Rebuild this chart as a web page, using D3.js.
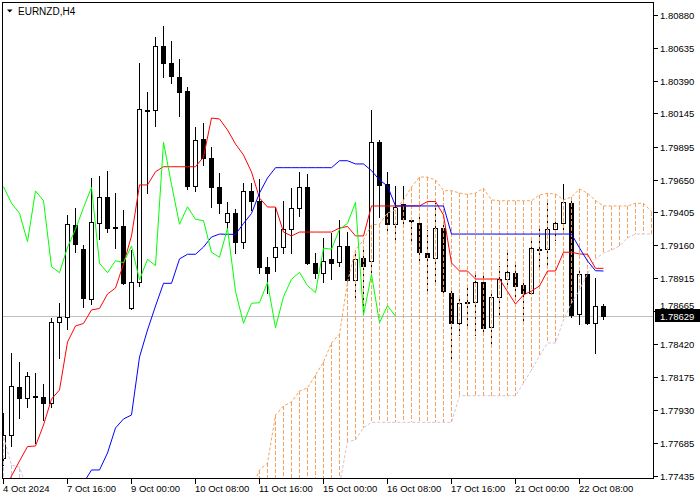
<!DOCTYPE html>
<html><head><meta charset="utf-8">
<script src="https://cdn.jsdelivr.net/npm/d3@7"></script>
<style>html,body{margin:0;padding:0;background:#fff;}svg{display:block;}</style>
</head><body><svg id="c" width="700" height="500"></svg>
<script>
const symbolTitle = "EURNZD,H4";
const lastPrice = 1.78629;
const xTickBars = [0, 8, 16, 24, 32, 40, 48, 56, 64, 72];
const xTickLabels = ["4 Oct 2024", "7 Oct 16:00", "9 Oct 00:00", "10 Oct 08:00", "11 Oct 16:00",
  "15 Oct 00:00", "16 Oct 08:00", "17 Oct 16:00", "21 Oct 00:00", "22 Oct 08:00"];
const yTickLabels = ["1.80880", "1.80635", "1.80390", "1.80145", "1.79895", "1.79650", "1.79405",
  "1.79160", "1.78915", "1.78665", "1.78420", "1.78175", "1.77930", "1.77685", "1.77435"];

const open = [
1.77570, 1.77741, 1.78098, 1.78020, 1.78033, 1.78023, 1.77978, 1.78584, 1.78621, 1.79311,
1.79129, 1.78755, 1.79323, 1.79518, 1.79296, 1.79303, 1.78688, 1.78882, 1.80170, 1.80170,
1.80648, 1.80524, 1.80414, 1.80312, 1.79604, 1.79953, 1.79809, 1.79592, 1.79335, 1.79398,
1.79186, 1.79565, 1.79492, 1.78999, 1.79074, 1.79144, 1.79279, 1.79440, 1.79592, 1.79025,
1.78950, 1.79054, 1.79036, 1.79154, 1.78900, 1.79062, 1.79044, 1.79929, 1.79617, 1.79316,
1.79465, 1.79348, 1.79323, 1.79104, 1.79066, 1.79286, 1.78800, 1.78576, 1.78735, 1.78733,
1.78882, 1.78546, 1.78770, 1.78905, 1.78950, 1.78862, 1.78805, 1.79133, 1.79129, 1.79279,
1.79323, 1.79473, 1.78643, 1.78942, 1.78581, 1.78708];
const high = [
1.77906, 1.78356, 1.78289, 1.78214, 1.78207, 1.78120, 1.78613, 1.78726, 1.79385, 1.79436,
1.79161, 1.79660, 1.79677, 1.79714, 1.79548, 1.79423, 1.79124, 1.80524, 1.80307, 1.80718,
1.80800, 1.80686, 1.80549, 1.80344, 1.80041, 1.80071, 1.79896, 1.79697, 1.79480, 1.79430,
1.79622, 1.79627, 1.79652, 1.79074, 1.79443, 1.79490, 1.79585, 1.79709, 1.79692, 1.79104,
1.79211, 1.79253, 1.79348, 1.79256, 1.79124, 1.79124, 1.80170, 1.79946, 1.79709, 1.79604,
1.79602, 1.79361, 1.79373, 1.79273, 1.79473, 1.79326, 1.78838, 1.78763, 1.78838, 1.78937,
1.78950, 1.78800, 1.79004, 1.79119, 1.79029, 1.78887, 1.79223, 1.79286, 1.79498, 1.79348,
1.79617, 1.79510, 1.78999, 1.78962, 1.78917, 1.78720];
const low = [
1.77517, 1.77661, 1.77866, 1.77953, 1.77684, 1.77853, 1.77953, 1.78315, 1.78531, 1.79111,
1.78696, 1.78720, 1.79204, 1.79256, 1.79141, 1.78870, 1.78685, 1.78857, 1.79552, 1.80050,
1.80414, 1.80370, 1.80128, 1.79578, 1.79567, 1.79759, 1.79447, 1.79398, 1.79291, 1.79104,
1.79137, 1.79423, 1.78954, 1.78800, 1.78969, 1.79099, 1.79104, 1.79378, 1.79020, 1.78912,
1.78887, 1.78905, 1.79007, 1.78895, 1.78750, 1.78651, 1.78937, 1.79368, 1.79266, 1.79199,
1.79298, 1.79174, 1.79017, 1.78805, 1.78875, 1.78795, 1.78315, 1.78489, 1.78551, 1.78489,
1.78501, 1.78427, 1.78638, 1.78862, 1.78763, 1.78601, 1.78800, 1.78974, 1.78999, 1.79199,
1.79249, 1.78621, 1.78571, 1.78569, 1.78352, 1.78606];
const close = [
1.77741, 1.78108, 1.78016, 1.78182, 1.78022, 1.77978, 1.78584, 1.78621, 1.79316, 1.79166,
1.78763, 1.79331, 1.79518, 1.79286, 1.79288, 1.78875, 1.78887, 1.80175, 1.80165, 1.80648,
1.80519, 1.80426, 1.80307, 1.79604, 1.79946, 1.79809, 1.79597, 1.79473, 1.79398, 1.79186,
1.79565, 1.79492, 1.78999, 1.78954, 1.79144, 1.79279, 1.79440, 1.79592, 1.79025, 1.78954,
1.79044, 1.79029, 1.79154, 1.78900, 1.79054, 1.79007, 1.79929, 1.79613, 1.79316, 1.79447,
1.79353, 1.79343, 1.79107, 1.79069, 1.79286, 1.78815, 1.78576, 1.78726, 1.78730, 1.78882,
1.78543, 1.78775, 1.78905, 1.78957, 1.78857, 1.78805, 1.79137, 1.79130, 1.79279, 1.79323,
1.79480, 1.78638, 1.78942, 1.78581, 1.78708, 1.78629];

// Ichimoku: Tenkan-sen (red)
const tenkan = [
1.77315, 1.77435, 1.77547, 1.77655, 1.77659, 1.77816, 1.78010, 1.78078, 1.78436, 1.78556,
1.78575, 1.78676, 1.78687, 1.78795, 1.78840, 1.79019, 1.79229, 1.79610, 1.79610, 1.79709,
1.79746, 1.79746, 1.79746, 1.79746, 1.79746, 1.79819, 1.80110, 1.80103, 1.80021, 1.79916,
1.79834, 1.79707, 1.79512, 1.79445, 1.79445, 1.79258, 1.79229, 1.79258, 1.79258, 1.79258,
1.79258, 1.79258, 1.79288, 1.79300, 1.79229, 1.79229, 1.79453, 1.79453, 1.79453, 1.79453,
1.79453, 1.79453, 1.79453, 1.79486, 1.79486, 1.79385, 1.79027, 1.78967, 1.78967, 1.78907,
1.78907, 1.78907, 1.78907, 1.78814, 1.78720, 1.78788, 1.78818, 1.78855, 1.78967, 1.78967,
1.79107, 1.79107, 1.79094, 1.79092, 1.78987, 1.78987];
// Kijun-sen (blue)
const kijun = [
null, null, null, null, null, null, null, null, null, null,
1.77383, 1.77480, 1.77480, 1.77607, 1.77794, 1.77861, 1.77891, 1.78324, 1.78526, 1.78705,
1.78875, 1.78875, 1.79057, 1.79092, 1.79092, 1.79146, 1.79221, 1.79243, 1.79241, 1.79241,
1.79322, 1.79397, 1.79550, 1.79662, 1.79739, 1.79739, 1.79739, 1.79739, 1.79739, 1.79739,
1.79739, 1.79739, 1.79791, 1.79791, 1.79767, 1.79767, 1.79717, 1.79647, 1.79602, 1.79453,
1.79453, 1.79453, 1.79453, 1.79453, 1.79453, 1.79453, 1.79243, 1.79243, 1.79243, 1.79243,
1.79243, 1.79243, 1.79243, 1.79243, 1.79243, 1.79243, 1.79243, 1.79243, 1.79243, 1.79243,
1.79243, 1.79243, 1.79139, 1.79042, 1.78969, 1.78967];
// Chikou span (lime), plotted from bar 0
const chikou = [
1.79597, 1.79473, 1.79398, 1.79186, 1.79565, 1.79492, 1.78999, 1.78954, 1.79144, 1.79279,
1.79440, 1.79592, 1.79025, 1.78954, 1.79044, 1.79029, 1.79154, 1.78900, 1.79054, 1.79007,
1.79929, 1.79613, 1.79316, 1.79447, 1.79353, 1.79343, 1.79107, 1.79069, 1.79286, 1.78815,
1.78576, 1.78726, 1.78730, 1.78882, 1.78543, 1.78775, 1.78905, 1.78957, 1.78857, 1.78805,
1.79137, 1.79130, 1.79279, 1.79323, 1.79480, 1.78638, 1.78942, 1.78581, 1.78708, 1.78629];
// Senkou span A (sandy brown) and B (thistle), bars 0..81
const spanA = [
1.77200, 1.77220, 1.77240, null, null, null, null, null, null, null,
null, null, null, null, null, null, null, null, null, null,
null, null, null, null, null, null, null, null, null, null,
null, 1.77330, 1.77480, 1.77532, 1.77891, 1.77958, 1.77988, 1.78070, 1.78093, 1.78190,
1.78287, 1.78429, 1.78496, 1.78885, 1.79124, 1.79199, 1.79311, 1.79318, 1.79400, 1.79423,
1.79498, 1.79595, 1.79669, 1.79669, 1.79647, 1.79567, 1.79567, 1.79550, 1.79539, 1.79550,
1.79585, 1.79498, 1.79492, 1.79492, 1.79492, 1.79492, 1.79492, 1.79535, 1.79548, 1.79542,
1.79498, 1.79520, 1.79580, 1.79548, 1.79494, 1.79453, 1.79453, 1.79453, 1.79453, 1.79473,
1.79473, 1.79410];
const spanB = [
1.77726, 1.77517, 1.77502, 1.77330, null, null, null, null, null, null,
null, null, null, null, null, null, null, null, null, null,
null, null, null, null, null, null, null, null, null, null,
null, 1.77250, 1.77250, 1.77250, 1.77250, 1.77250, 1.77250, 1.77250, 1.77250, 1.77250,
1.77250, 1.77250, 1.77368, 1.77691, 1.77704, 1.77797, 1.77836, 1.77836, 1.77836, 1.77836,
1.77836, 1.77836, 1.77836, 1.77836, 1.77836, 1.77836, 1.77836, 1.78035, 1.78035, 1.78035,
1.78035, 1.78035, 1.78035, 1.78035, 1.78035, 1.78130, 1.78227, 1.78332, 1.78429, 1.78429,
1.78601, 1.78728, 1.78825, 1.78945, 1.79057, 1.79101, 1.79124, 1.79154, 1.79214, 1.79243,
1.79243, 1.79243];

const FONT = '"Liberation Sans", Arial, sans-serif';
const svg = d3.select("#c");
const L = 2.5, R = 653.5, T = 2.5, B = 478.5;

const x = d3.scaleLinear().domain([0, 75]).range([3.5, 603.5]);
const y = d3.scaleLinear().domain([1.77435, 1.80880]).range([476, 15]);
const ry = v => Math.round(y(v));
const boxTop = ry(lastPrice) - 7;

svg.append("defs").append("clipPath").attr("id", "plot")
  .append("rect").attr("x", 3).attr("y", 3).attr("width", 650).attr("height", 475.5);

const g = svg.append("g").attr("clip-path", "url(#plot)");

// current price line
g.append("line").attr("x1", L).attr("x2", R)
  .attr("y1", ry(lastPrice) + 0.5).attr("y2", ry(lastPrice) + 0.5)
  .attr("stroke", "#c0c0c0").attr("stroke-width", 1);

// candles
const bars = d3.range(open.length);
const cg = g.append("g").attr("shape-rendering", "crispEdges");
cg.selectAll("line.wick").data(bars).join("line")
  .attr("x1", i => x(i)).attr("x2", i => x(i))
  .attr("y1", i => ry(high[i])).attr("y2", i => ry(low[i]) + 1)
  .attr("stroke", "#000").attr("stroke-width", 1);
cg.selectAll("rect.body").data(bars).join("rect")
  .attr("x", i => x(i) - 2)
  .attr("y", i => ry(Math.max(open[i], close[i])) + 0.5)
  .attr("width", 4)
  .attr("height", i => Math.max(1, ry(Math.min(open[i], close[i])) - ry(Math.max(open[i], close[i]))))
  .attr("fill", i => close[i] >= open[i] ? "#fff" : "#000")
  .attr("stroke", "#000").attr("stroke-width", 1);

// cloud histogram
const cloudBars = d3.range(spanA.length).filter(i => spanA[i] != null && spanB[i] != null);
g.append("g").attr("shape-rendering", "crispEdges")
  .selectAll("line").data(cloudBars).join("line")
  .attr("x1", i => x(i)).attr("x2", i => x(i))
  .attr("y1", i => y(spanA[i])).attr("y2", i => y(spanB[i]))
  .attr("stroke", i => spanA[i] >= spanB[i] ? "#F4A460" : "#D8BFD8")
  .attr("stroke-width", 1).attr("stroke-dasharray", "4,2");

const lineGen = d3.line().defined(d => d != null).x((d, i) => x(i)).y(d => y(d));
function drawLine(arr, color, dash) {
  const p = g.append("path").datum(arr).attr("d", lineGen)
    .attr("fill", "none").attr("stroke", color).attr("stroke-width", 1);
  if (dash) p.attr("stroke-dasharray", dash);
  return p;
}
drawLine(spanA, "#F4A460", "3,2");
drawLine(spanB, "#D8BFD8", "3,2");
drawLine(tenkan, "#FF0000");
drawLine(kijun, "#0000FF");
drawLine(chikou, "#00FF00");

// frame
svg.append("path")
  .attr("d", `M${L},${T}H${R}V${B}H${L}Z`)
  .attr("fill", "none").attr("stroke", "#000").attr("stroke-width", 1)
  .attr("shape-rendering", "crispEdges");

// y axis
const yVals = yTickLabels.map(Number);
const ya = svg.append("g").attr("font-family", FONT).attr("font-size", "9.5px");
yVals.forEach((v, k) => {
  const yy = ry(v) + 0.5;
  ya.append("line").attr("x1", 654).attr("x2", 658).attr("y1", yy).attr("y2", yy)
    .attr("stroke", "#000").attr("shape-rendering", "crispEdges");
  let base = yy + 3.5;
  // a tick label that would sit under the last-price box is lifted just above it
  if (base > boxTop && base - 7 < boxTop + 13) base = boxTop - 0.5;
  ya.append("text").attr("x", 660).attr("y", base).attr("fill", "#000").text(yTickLabels[k]);
});

// last price label
ya.append("rect").attr("x", 655).attr("y", boxTop).attr("width", 45).attr("height", 13)
  .attr("fill", "#000");
ya.append("text").attr("x", 660).attr("y", ry(lastPrice) + 4).attr("fill", "#fff")
  .text(lastPrice.toFixed(5));

// x axis
const xa = svg.append("g").attr("font-family", FONT).attr("font-size", "9.5px");
xTickBars.forEach((b, k) => {
  const xx = x(b);
  xa.append("line").attr("x1", xx).attr("x2", xx).attr("y1", 479).attr("y2", 484)
    .attr("stroke", "#000").attr("shape-rendering", "crispEdges");
  xa.append("text").attr("x", xx - 0.5).attr("y", 491.5).attr("fill", "#000").text(xTickLabels[k]);
});

// title
svg.append("path").attr("d", "M7,9.5L12.5,9.5L9.75,12.5Z").attr("fill", "#000");
svg.append("text").attr("x", 18).attr("y", 15).attr("font-family", FONT)
  .attr("font-size", "10px").attr("fill", "#000").text(symbolTitle);
</script></body></html>
